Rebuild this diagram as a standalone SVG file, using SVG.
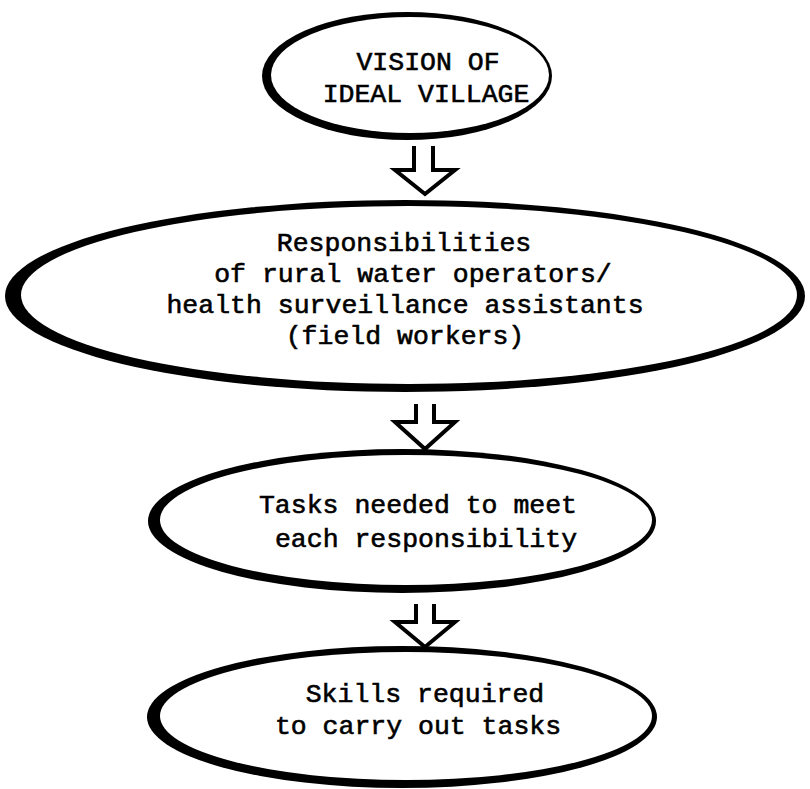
<svg xmlns="http://www.w3.org/2000/svg" width="810" height="789" viewBox="0 0 810 789">
<style>
.outer{fill:#000}
.inner{fill:#fff}
.t{font-family:"Liberation Mono","DejaVu Sans Mono",monospace;font-size:26.5px;fill:#000;stroke:#000;stroke-width:0.6;text-anchor:middle}
.arr{fill:none;stroke:#000;stroke-width:4;stroke-linejoin:miter}
</style>
<rect width="810" height="789" fill="#fff"/>
<g id="node-vision">
<ellipse class="outer" cx="407" cy="76" rx="145" ry="64"/>
<ellipse class="inner" cx="410" cy="75" rx="139" ry="58"/>
<text class="t" x="428" y="70">VISION OF</text>
<text class="t" x="426" y="102">IDEAL VILLAGE</text>
</g>
<g id="node-responsibilities">
<ellipse class="outer" cx="405" cy="296" rx="400" ry="96"/>
<ellipse class="inner" cx="409" cy="295" rx="388" ry="89"/>
<text class="t" x="404" y="251">Responsibilities</text>
<text class="t" x="413" y="282">of rural water operators/</text>
<text class="t" x="405" y="313">health surveillance assistants</text>
<text class="t" x="405" y="344">(field workers)</text>
</g>
<g id="node-tasks">
<ellipse class="outer" cx="402" cy="521" rx="254" ry="72"/>
<ellipse class="inner" cx="406" cy="520" rx="246" ry="65"/>
<text class="t" x="418" y="513">Tasks needed to meet</text>
<text class="t" x="426" y="547">each responsibility</text>
</g>
<g id="node-skills">
<ellipse class="outer" cx="402" cy="717" rx="255" ry="71"/>
<ellipse class="inner" cx="406" cy="716" rx="246" ry="64"/>
<text class="t" x="425" y="702">Skills required</text>
<text class="t" x="418" y="734">to carry out tasks</text>
</g>
<g id="connectors">
<path class="arr" d="M414,146 V170 H395 L425,194 L455,170 H433 V146"/>
<path class="arr" d="M416,404 V422 H395 L425,449 L455,422 H434 V404"/>
<path class="arr" d="M416,604 V622 H395 L425,647 L455,622 H434 V604"/>
</g>
</svg>
